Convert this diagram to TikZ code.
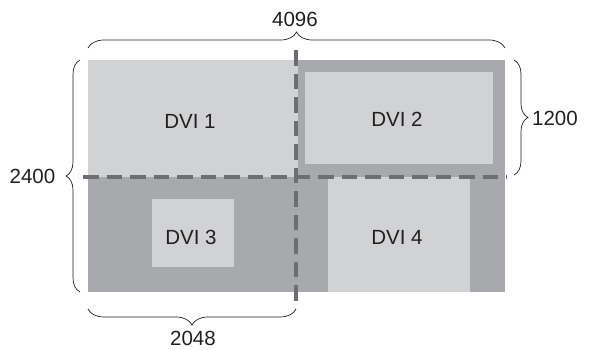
\documentclass[tikz,border=0pt]{standalone}
\usepackage{fontspec}
\setmainfont{Liberation Sans}
\usetikzlibrary{decorations.pathreplacing}
\definecolor{lightg}{HTML}{D1D2D4}
\definecolor{darkg}{HTML}{A7A9AC}
\definecolor{dashg}{HTML}{6D6E71}
\definecolor{txt}{HTML}{231F20}
\begin{document}
\begin{tikzpicture}[x=1pt,y=-1pt,
  region/.style={fill=#1,draw=none},
  lbl/.style={font=\fontsize{20.5}{24}\selectfont,text=txt,inner sep=0pt},
  divider/.style={draw=dashg,line width=4pt,dash pattern=on 15.5pt off 8pt},
  bracedec/.style={decorate,decoration={brace,amplitude=#1},draw=txt,line width=0.7pt}]
\useasboundingbox (0,0) rectangle (595,349);
% regions
\fill[darkg] (88,177) rectangle (505,292);
\fill[darkg] (298,59.5) rectangle (505,177);
\fill[lightg] (88,59.5) rectangle (298,177);
\node[region=lightg,minimum width=188pt,minimum height=92pt,inner sep=0pt,anchor=north west] (dvi2) at (305,72) {};
\node[region=lightg,minimum width=82pt,minimum height=67.5pt,inner sep=0pt,anchor=north west] (dvi3) at (152,199) {};
\node[region=lightg,minimum width=142.5pt,minimum height=115pt,inner sep=0pt,anchor=north west] (dvi4) at (327.5,177) {};
% labels
\node[lbl] (l1) at (190,121) {DVI 1};
\node[lbl] (l2) at (397,119) {DVI 2};
\node[lbl] (l3) at (191,237) {DVI 3};
\node[lbl] (l4) at (397,237) {DVI 4};
% dashed dividers
\coordinate (hA) at (83,177);
\coordinate (hB) at (507,177);
\coordinate (vA) at (296,50);
\coordinate (vB) at (296,304);
\draw[divider] (hA) -- (hB);
\draw[divider] (vA) -- (vB);
% braces
\coordinate (tA) at (88,48);
\coordinate (tB) at (505,48);
\draw[bracedec=16pt] (tA) -- (tB);
\node[lbl] (n4096) at (295,19.5) {4096};
\coordinate (lA) at (80,292);
\coordinate (lB) at (80,60);
\draw[bracedec=14pt] (lA) -- (lB);
\node[lbl] (n2400) at (32.5,176) {2400};
\coordinate (rA) at (514,60);
\coordinate (rB) at (514,175);
\draw[bracedec=14pt] (rA) -- (rB);
\node[lbl] (n1200) at (555,118) {1200};
\coordinate (bA) at (296,309);
\coordinate (bB) at (88,309);
\draw[bracedec=16pt] (bA) -- (bB);
\node[lbl] (n2048) at (193,338.5) {2048};
\end{tikzpicture}
\end{document}
